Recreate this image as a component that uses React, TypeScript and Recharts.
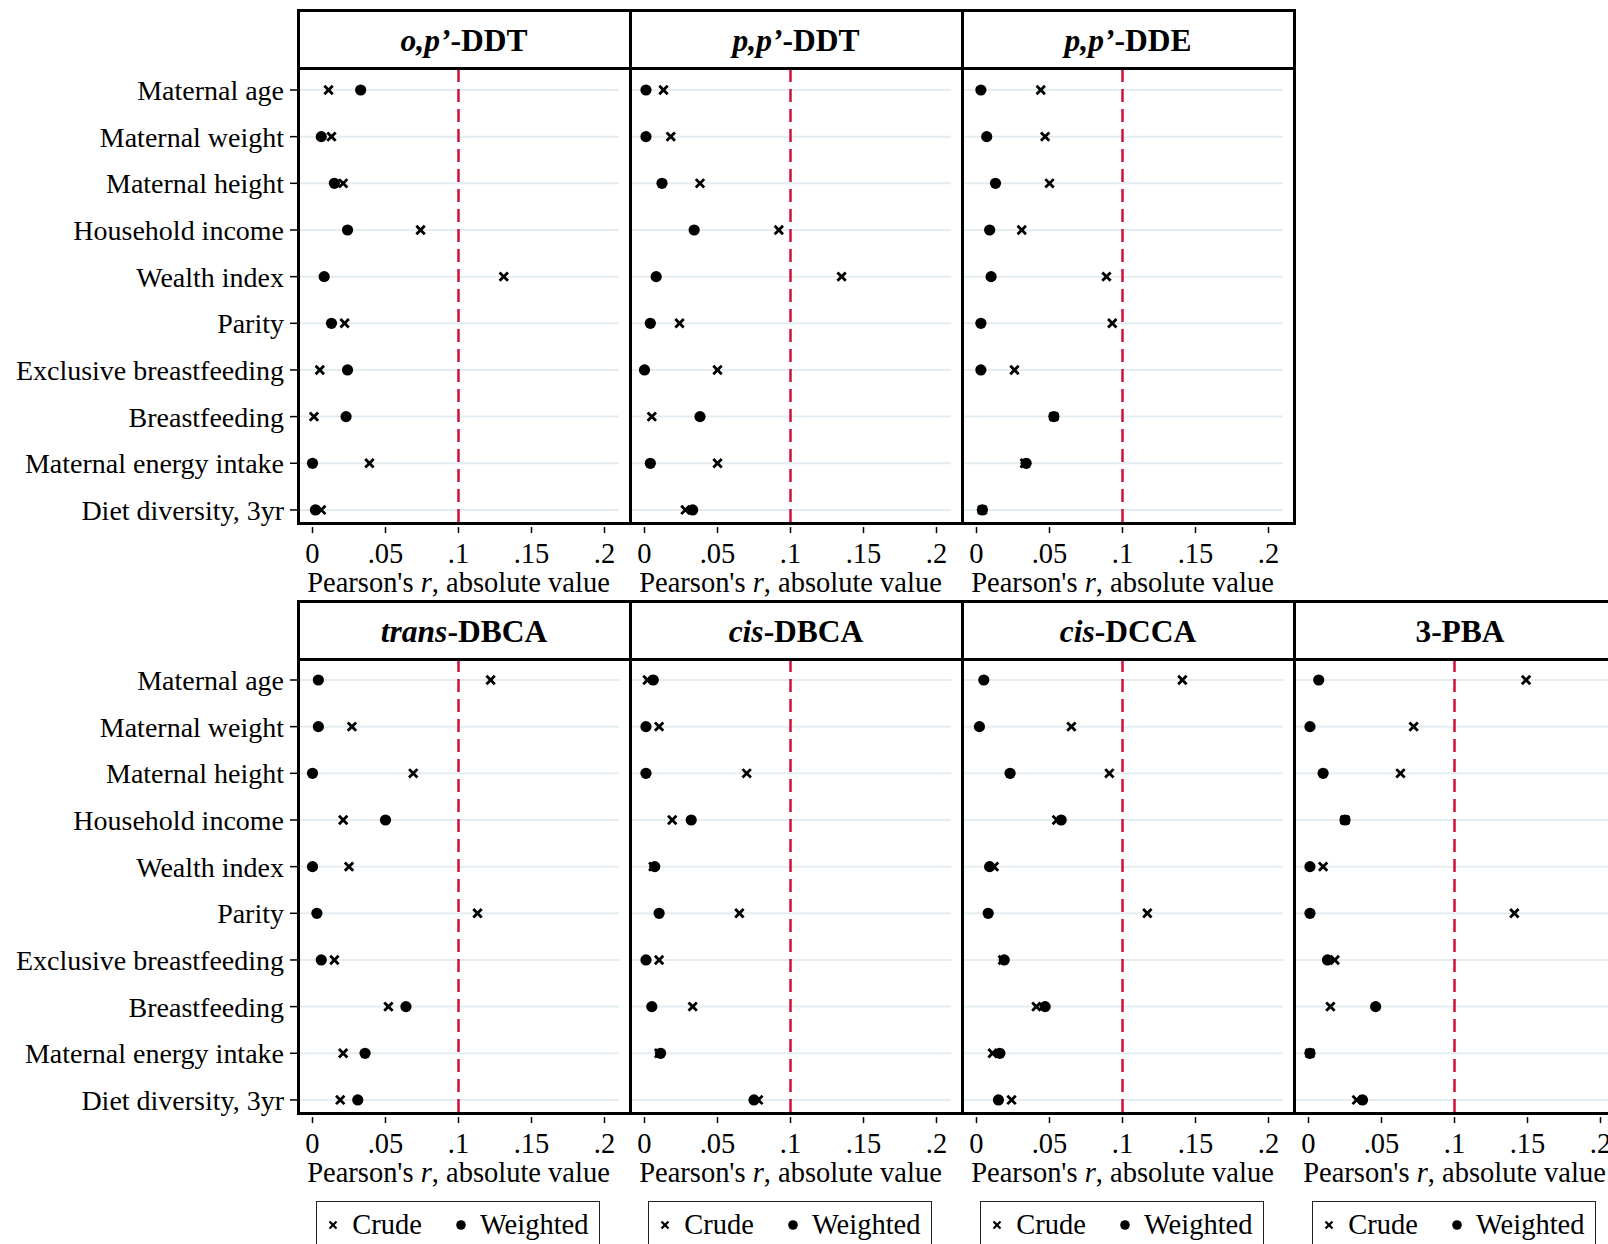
import React from 'react';
import { ScatterChart, Scatter, XAxis, YAxis, ReferenceLine, Legend } from 'recharts';

// rows of the plot, top to bottom
const categories = [
  'Maternal age',
  'Maternal weight',
  'Maternal height',
  'Household income',
  'Wealth index',
  'Parity',
  'Exclusive breastfeeding',
  'Breastfeeding',
  'Maternal energy intake',
  'Diet diversity, 3yr',
];

const tickValues = [0, 0.05, 0.1, 0.15, 0.2];
const tickLabels = ['0', '.05', '.1', '.15', '.2'];

// panel titles: italic prefix + upright rest
const titleItalic = ['o,p’', 'p,p’', 'p,p’', 'trans', 'cis', 'cis', ''];
const titleRest = ['-DDT', '-DDT', '-DDE', '-DBCA', '-DBCA', '-DCCA', '3-PBA'];

// |r| values
const opDDTCrude = [0.011, 0.013, 0.021, 0.074, 0.131, 0.022, 0.005, 0.001, 0.039, 0.006];
const opDDTWeighted = [0.033, 0.006, 0.015, 0.024, 0.008, 0.013, 0.024, 0.023, 0.0, 0.002];

const ppDDTCrude = [0.013, 0.018, 0.038, 0.092, 0.135, 0.024, 0.05, 0.005, 0.05, 0.028];
const ppDDTWeighted = [0.001, 0.001, 0.012, 0.034, 0.008, 0.004, 0.0, 0.038, 0.004, 0.033];

const ppDDECrude = [0.044, 0.047, 0.05, 0.031, 0.089, 0.093, 0.026, 0.053, 0.033, 0.004];
const ppDDEWeighted = [0.003, 0.007, 0.013, 0.009, 0.01, 0.003, 0.003, 0.053, 0.034, 0.004];

const transDBCACrude = [0.122, 0.027, 0.069, 0.021, 0.025, 0.113, 0.015, 0.052, 0.021, 0.019];
const transDBCAWeighted = [0.004, 0.004, 0.0, 0.05, 0.0, 0.003, 0.006, 0.064, 0.036, 0.031];

const cisDBCACrude = [0.002, 0.01, 0.07, 0.019, 0.006, 0.065, 0.01, 0.033, 0.01, 0.078];
const cisDBCAWeighted = [0.006, 0.001, 0.001, 0.032, 0.007, 0.01, 0.001, 0.005, 0.011, 0.075];

const cisDCCACrude = [0.141, 0.065, 0.091, 0.055, 0.012, 0.117, 0.018, 0.041, 0.011, 0.024];
const cisDCCAWeighted = [0.005, 0.002, 0.023, 0.058, 0.009, 0.008, 0.019, 0.047, 0.016, 0.015];

const pbaCrude = [0.149, 0.072, 0.063, 0.025, 0.01, 0.141, 0.018, 0.015, 0.001, 0.033];
const pbaWeighted = [0.007, 0.001, 0.01, 0.025, 0.001, 0.001, 0.013, 0.046, 0.001, 0.037];

const threshold = 0.1;

const panels = [
  { row: 0, col: 0, crude: opDDTCrude, weighted: opDDTWeighted },
  { row: 0, col: 1, crude: ppDDTCrude, weighted: ppDDTWeighted },
  { row: 0, col: 2, crude: ppDDECrude, weighted: ppDDEWeighted },
  { row: 1, col: 0, crude: transDBCACrude, weighted: transDBCAWeighted },
  { row: 1, col: 1, crude: cisDBCACrude, weighted: cisDBCAWeighted },
  { row: 1, col: 2, crude: cisDCCACrude, weighted: cisDCCAWeighted },
  { row: 1, col: 3, crude: pbaCrude, weighted: pbaWeighted },
];

const FONT = '"Liberation Serif", "Times New Roman", Times, serif';
const PANEL_W = 332;
const COL_LEFT0 = 298;
const ROW_OFFSET = 590.3;
const TITLE_TOP = 10.7;
const PLOT_TOP = 68.9;
const FRAME_BOTTOM = 523.5;
const AXIS_TOP = 527;
const ROW1_Y = 89.9;
const ROW_STEP = 46.66;
const X_AXIS_H = 72;

const X_MIN = -14.5 / 1460;
const X_MAX = (PANEL_W - 14.5) / 1460;
const GRID_END = 0.21;
const Y_MIN = 1 - (ROW1_Y - PLOT_TOP) / ROW_STEP;
const Y_MAX = 1 + (AXIS_TOP - ROW1_Y) / ROW_STEP;
const FRAME_Y = 1 + (FRAME_BOTTOM - ROW1_Y) / ROW_STEP;

const rowTicks = categories.map((_, i) => i + 1);

const CrossShape = (props: any) => {
  const { cx, cy } = props;
  const s = 4.2;
  return (
    <g>
      <line x1={cx - s} y1={cy - s} x2={cx + s} y2={cy + s} stroke="#000" strokeWidth={2.8} />
      <line x1={cx - s} y1={cy + s} x2={cx + s} y2={cy - s} stroke="#000" strokeWidth={2.8} />
    </g>
  );
};

const DotShape = (props: any) => {
  const { cx, cy } = props;
  return <circle cx={cx} cy={cy} r={5.6} fill="#000" />;
};

const AxisTitle = (props: any) => {
  const vb = props.viewBox;
  const cx = vb.x + ((threshold - X_MIN) / (X_MAX - X_MIN)) * vb.width;
  return (
    <text x={cx} y={vb.y + 65} textAnchor="middle" fontSize={28.5} fontFamily={FONT} fill="#000">
      Pearson's <tspan fontStyle="italic">r</tspan>, absolute value
    </text>
  );
};

const LegendBox = (props: any) => {
  const payload = props.payload || [];
  const names = payload.length ? payload.map((p: any) => p.value) : ['Crude', 'Weighted'];
  const lefts = [10.3, 138];
  return (
    <div
      style={{
        position: 'relative',
        width: 284,
        height: 70,
        border: '1.5px solid #222',
        boxSizing: 'border-box',
        background: '#fff',
        fontFamily: FONT,
        fontSize: 28.5,
        color: '#000',
      }}
    >
      {names.map((n: string, i: number) => (
        <div
          key={n}
          style={{
            position: 'absolute',
            left: lefts[i],
            top: 0,
            height: 46,
            display: 'flex',
            alignItems: 'center',
            whiteSpace: 'nowrap',
          }}
        >
          <svg width={12} height={12} style={{ marginRight: 13.5 }}>
            {i === 0 ? (
              <g stroke="#000" strokeWidth={2.2}>
                <line x1={2.5} y1={2.5} x2={9.5} y2={9.5} />
                <line x1={2.5} y1={9.5} x2={9.5} y2={2.5} />
              </g>
            ) : (
              <circle cx={6} cy={6} r={4.8} fill="#000" />
            )}
          </svg>
          <span>{n}</span>
        </div>
      ))}
    </div>
  );
};

function Panel({ p, idx }: { p: any; idx: number }) {
  const top = TITLE_TOP + p.row * ROW_OFFSET;
  const plotTop = PLOT_TOP + p.row * ROW_OFFSET;
  const frameBottom = FRAME_BOTTOM + p.row * ROW_OFFSET;
  const left = COL_LEFT0 + p.col * PANEL_W;
  const yw = p.col === 0 ? left : 0;
  const plotH = AXIS_TOP - PLOT_TOP;
  const crudeData = p.crude.map((v: number, i: number) => ({ x: v, y: i + 1 }));
  const weightedData = p.weighted.map((v: number, i: number) => ({ x: v, y: i + 1 }));

  return (
    <>
      <div style={{ position: 'absolute', left: left - yw, top: plotTop }}>
        <ScatterChart
          width={yw + PANEL_W}
          height={plotH + X_AXIS_H}
          margin={{ top: 0, right: 0, bottom: 0, left: 0 }}
        >
          <XAxis
            type="number"
            dataKey="x"
            domain={[X_MIN, X_MAX]}
            ticks={tickValues}
            interval={0}
            tickFormatter={(v: number) => tickLabels[tickValues.findIndex((t) => Math.abs(t - v) < 1e-9)]}
            height={X_AXIS_H}
            axisLine={false}
            tickSize={6}
            tickMargin={10}
            tickLine={{ stroke: '#000', strokeWidth: 1.5 }}
            tick={{ fill: '#000', fontSize: 28.5, fontFamily: FONT }}
            label={{ content: AxisTitle }}
          />
          <YAxis
            type="number"
            dataKey="y"
            domain={[Y_MIN, Y_MAX]}
            reversed
            ticks={rowTicks}
            interval={0}
            hide={p.col !== 0}
            width={yw || 1}
            axisLine={false}
            tickSize={8}
            tickMargin={6}
            tickLine={{ stroke: '#000', strokeWidth: 1.5 }}
            tick={{ fill: '#000', fontSize: 28, fontFamily: FONT }}
            tickFormatter={(v: number) => categories[Math.round(v) - 1]}
          />
          {rowTicks.map((r) => (
            <ReferenceLine
              key={r}
              segment={[
                { x: X_MIN, y: r },
                { x: GRID_END, y: r },
              ]}
              stroke="#e4edf1"
              strokeWidth={2}
            />
          ))}
          <ReferenceLine
            segment={[
              { x: threshold, y: Y_MIN },
              { x: threshold, y: FRAME_Y },
            ]}
            stroke="#d0103a"
            strokeWidth={2.5}
            strokeDasharray="13 7"
          />
          <Scatter name="Crude" data={crudeData} shape={CrossShape} isAnimationActive={false} />
          <Scatter name="Weighted" data={weightedData} shape={DotShape} isAnimationActive={false} />
          {p.row === 1 && (
            <Legend
              layout="horizontal"
              verticalAlign="middle"
              align="center"
              content={LegendBox}
              wrapperStyle={{ left: yw + 17.5, top: 1201 - plotTop, width: 284 }}
            />
          )}
        </ScatterChart>
      </div>
      {/* panel frame and title strip */}
      <div
        style={{
          position: 'absolute',
          left: left - 1.5,
          top: top - 1.5,
          width: PANEL_W + 3,
          height: frameBottom - top + 3,
          border: '3px solid #000',
          boxSizing: 'border-box',
          pointerEvents: 'none',
        }}
      />
      <div
        style={{
          position: 'absolute',
          left: left - 1.5,
          top: plotTop - 1.5,
          width: PANEL_W + 3,
          height: 3,
          background: '#000',
        }}
      />
      <div
        style={{
          position: 'absolute',
          left,
          top: top + 3,
          width: PANEL_W,
          height: plotTop - top - 3,
          display: 'flex',
          alignItems: 'center',
          justifyContent: 'center',
          fontFamily: FONT,
          fontWeight: 'bold',
          fontSize: 31.5,
          color: '#000',
          whiteSpace: 'nowrap',
        }}
      >
        {titleItalic[idx] && <i>{titleItalic[idx]}</i>}
        {titleRest[idx]}
      </div>
    </>
  );
}

export default function App() {
  return (
    <div
      style={{
        position: 'absolute',
        left: 0,
        top: 0,
        width: 1608,
        height: 1244,
        overflow: 'hidden',
        background: '#fff',
      }}
    >
      {panels.map((p, i) => (
        <Panel key={i} p={p} idx={i} />
      ))}
    </div>
  );
}
